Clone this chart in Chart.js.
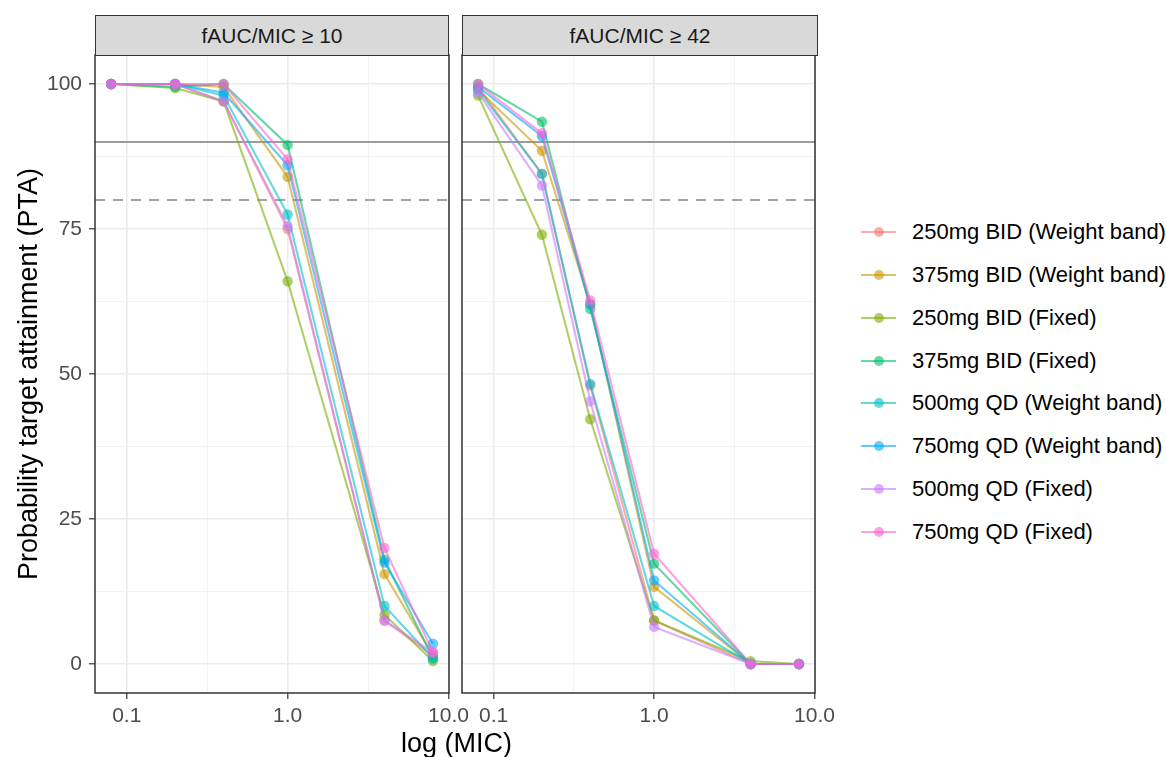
<!DOCTYPE html>
<html>
<head>
<meta charset="utf-8">
<script src="https://cdn.jsdelivr.net/npm/chart.js@4.4.1/dist/chart.umd.min.js"></script>
<style>
html,body{margin:0;padding:0;background:#fff;width:1166px;height:757px;overflow:hidden;font-family:"Liberation Sans",Arial,sans-serif;}
#wrap{position:relative;width:1166px;height:757px;}
canvas{position:absolute;top:0;}
.strip{position:absolute;top:15px;height:41px;box-sizing:border-box;border:1.5px solid #333;background:#d9d9d9;color:#1a1a1a;font-size:21px;display:flex;align-items:center;justify-content:center;}
.xtitle{position:absolute;left:0;width:913px;text-align:center;font-size:27px;color:#000;top:728px;line-height:30px;}
.leg{position:absolute;left:850px;height:30px;width:316px;}
.leg .ln{position:absolute;left:11px;width:35px;height:2px;top:14px;}
.leg .dt{position:absolute;left:23.5px;width:10px;height:10px;border-radius:50%;top:10px;}
.leg .tx{position:absolute;left:62px;top:0;line-height:30px;font-size:22px;color:#000;white-space:nowrap;}
</style>
</head>
<body>
<div id="wrap">
  <canvas id="c1" width="480" height="757" style="left:0;width:480px;height:757px;"></canvas>
  <canvas id="c2" width="400" height="757" style="left:440px;width:400px;height:757px;"></canvas>
  <div class="strip" id="s1" style="left:95px;width:354px;"></div>
  <div class="strip" id="s2" style="left:462px;width:356px;"></div>
  <div class="xtitle" id="xt"></div>
  <div id="legend"></div>
</div>
<script>
// ---- data ----
const MIC = [0.08, 0.2, 0.4, 1, 4, 8];
const SERIES_NAMES = [
  "250mg BID (Weight band)", "375mg BID (Weight band)", "250mg BID (Fixed)", "375mg BID (Fixed)",
  "500mg QD (Weight band)", "750mg QD (Weight band)", "500mg QD (Fixed)", "750mg QD (Fixed)"
];
const SERIES_COLORS = ["#F8766D","#CD9600","#7CAE00","#00BE67","#00BFC4","#00A9FF","#C77CFF","#FF61CC"];
const PANEL_TITLES = ["fAUC/MIC \u2265 10", "fAUC/MIC \u2265 42"];
const X_TITLE = "log (MIC)";
const Y_TITLE = "Probability target attainment (PTA)";

// Panel 1: fAUC/MIC >= 10
const P10_250BID_WB = [100, 100, 97, 75, 7.5, 1.5];
const P10_375BID_WB = [100, 100, 99.5, 84, 15.5, 1.5];
const P10_250BID_FX = [100, 99.3, 97, 66, 8.5, 0.5];
const P10_375BID_FX = [100, 99.5, 100, 89.5, 18, 1];
const P10_500QD_WB  = [100, 100, 98, 77.5, 10, 1];
const P10_750QD_WB  = [100, 100, 98.5, 86, 17.5, 3.5];
const P10_500QD_FX  = [100, 100, 97, 75.5, 7.5, 2];
const P10_750QD_FX  = [100, 100, 100, 87, 20, 2];

// Panel 2: fAUC/MIC >= 42
const P42_250BID_WB = [99.5, 84.5, 48, 7.5, 0, 0];
const P42_375BID_WB = [99, 88.5, 62, 13.3, 0, 0];
const P42_250BID_FX = [98, 74, 42.2, 7.5, 0.5, 0];
const P42_375BID_FX = [100, 93.5, 61.2, 17.3, 0, 0];
const P42_500QD_WB  = [99, 84.5, 48.3, 10, 0, 0];
const P42_750QD_WB  = [99.5, 91, 62, 14.4, 0, 0];
const P42_500QD_FX  = [98.5, 82.5, 45.3, 6.4, 0, 0];
const P42_750QD_FX  = [100, 91.5, 62.7, 19, 0, 0];

const Y_TICKS = [0, 25, 50, 75, 100];
const Y_MINOR = [12.5, 37.5, 62.5, 87.5];
const X_TICKS = [0.1, 1, 10];
const X_TICK_LABELS = ["0.1", "1.0", "10.0"];
const X_MINOR = [0.3162, 3.162];
const TARGET_SOLID = 90;
const TARGET_DASHED = 80;
const X_MIN = 0.0635, X_MAX = 10.07, Y_MIN = -5, Y_MAX = 105;

const PANEL1 = [P10_250BID_WB, P10_375BID_WB, P10_250BID_FX, P10_375BID_FX, P10_500QD_WB, P10_750QD_WB, P10_500QD_FX, P10_750QD_FX];
const PANEL2 = [P42_250BID_WB, P42_375BID_WB, P42_250BID_FX, P42_375BID_FX, P42_500QD_WB, P42_750QD_WB, P42_500QD_FX, P42_750QD_FX];

// ---- helpers ----
const FONT = "'Liberation Sans', Arial, sans-serif";
function rgba(hex, a){
  const n = parseInt(hex.slice(1),16);
  return `rgba(${(n>>16)&255},${(n>>8)&255},${n&255},${a})`;
}
const ALPHA = 0.6;

const borderPlugin = {
  id: 'panelBorder',
  afterDraw(chart){
    const {ctx, chartArea:a} = chart;
    ctx.save();
    ctx.strokeStyle = '#333333';
    ctx.lineWidth = 1.5;
    ctx.strokeRect(a.left, a.top, a.right - a.left, a.bottom - a.top);
    ctx.restore();
  }
};

function makeChart(id, panel, showY){
  const datasets = [];
  datasets.push({
    data: [{x: X_MIN, y: TARGET_SOLID}, {x: X_MAX, y: TARGET_SOLID}],
    borderColor: '#9c9c9c', borderWidth: 2, pointRadius: 0, order: 100, fill: false
  });
  datasets.push({
    data: [{x: X_MIN, y: TARGET_DASHED}, {x: X_MAX, y: TARGET_DASHED}],
    borderColor: '#a3a3a3', borderWidth: 2, borderDash: [10, 8], pointRadius: 0, order: 101, fill: false
  });
  panel.forEach((vals, i) => {
    const c = SERIES_COLORS[i];
    datasets.push({
      label: SERIES_NAMES[i],
      data: MIC.map((m, j) => ({x: m, y: vals[j]})),
      borderColor: rgba(c, ALPHA),
      backgroundColor: rgba(c, ALPHA),
      pointBackgroundColor: rgba(c, ALPHA),
      pointBorderWidth: 0,
      pointRadius: 5.2,
      borderWidth: 2.1,
      tension: 0,
      fill: false,
      order: -i
    });
  });
  const isXMajor = v => X_TICKS.some(t => Math.abs(t - v) < 1e-9);
  const isYMajor = v => Y_TICKS.includes(v);
  return new Chart(document.getElementById(id), {
    type: 'line',
    data: {datasets},
    plugins: [borderPlugin],
    options: {
      responsive: false, animation: false, devicePixelRatio: 1,
      layout: {padding: {left: showY ? 0 : 22, right: showY ? 31 : 22, top: 55, bottom: 0}},
      plugins: {legend: {display: false}, tooltip: {enabled: false}},
      scales: {
        x: {
          type: 'logarithmic', min: X_MIN, max: X_MAX,
          afterBuildTicks: s => { s.ticks = X_MINOR.concat(X_TICKS).sort((a,b)=>a-b).map(v => ({value: v})); },
          afterFit: s => { s.height = 64; },
          ticks: {
            autoSkip: false, maxRotation: 0, minRotation: 0, padding: 5, color: '#4d4d4d',
            font: {family: FONT, size: 21},
            callback: v => { const i = X_TICKS.findIndex(t => Math.abs(t - v) < 1e-9); return i >= 0 ? X_TICK_LABELS[i] : ''; }
          },
          grid: {
            color: c => isXMajor(c.tick.value) ? '#ebebeb' : '#f2f2f2',
            lineWidth: c => isXMajor(c.tick.value) ? 1.6 : 0.9,
            tickColor: c => isXMajor(c.tick.value) ? '#333333' : 'rgba(0,0,0,0)',
            tickLength: 6, tickWidth: 1.2, drawTicks: true
          },
          border: {display: false}
        },
        y: {
          type: 'linear', min: Y_MIN, max: Y_MAX,
          afterBuildTicks: s => { s.ticks = Y_MINOR.concat(Y_TICKS).sort((a,b)=>a-b).map(v => ({value: v})); },
          afterFit: s => { s.width = showY ? 95 : 0; },
          title: showY ? {display: true, text: Y_TITLE, color: '#000', font: {family: FONT, size: 27}, padding: {top: 13, bottom: 0}} : {display: false},
          ticks: {
            display: showY, autoSkip: false, padding: 7, color: '#4d4d4d',
            font: {family: FONT, size: 21},
            callback: v => isYMajor(v) ? String(v) : ''
          },
          grid: {
            color: c => isYMajor(c.tick.value) ? '#ebebeb' : '#f2f2f2',
            lineWidth: c => isYMajor(c.tick.value) ? 1.6 : 0.9,
            tickColor: c => (showY && isYMajor(c.tick.value)) ? '#333333' : 'rgba(0,0,0,0)',
            tickLength: showY ? 6 : 0, tickWidth: 1.2, drawTicks: showY
          },
          border: {display: false}
        }
      }
    }
  });
}

makeChart('c1', PANEL1, true);
makeChart('c2', PANEL2, false);

document.getElementById('s1').textContent = PANEL_TITLES[0];
document.getElementById('s2').textContent = PANEL_TITLES[1];
document.getElementById('xt').textContent = X_TITLE;

const legend = document.getElementById('legend');
SERIES_NAMES.forEach((name, i) => {
  const row = document.createElement('div');
  row.className = 'leg';
  row.style.top = (232 + i * 42.85 - 15) + 'px';
  const col = rgba(SERIES_COLORS[i], ALPHA);
  row.innerHTML = `<span class="ln" style="background:${col}"></span><span class="dt" style="background:${col}"></span><span class="tx"></span>`;
  row.querySelector('.tx').textContent = name;
  legend.appendChild(row);
});
</script>
</body>
</html>
